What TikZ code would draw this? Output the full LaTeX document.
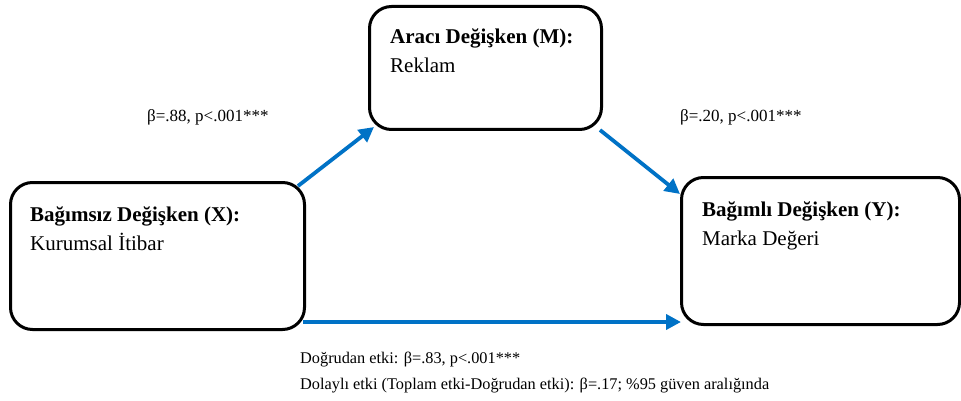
\documentclass[tikz,border=0pt]{standalone}
\usepackage{fontspec}
\setmainfont{Liberation Serif}
\usetikzlibrary{arrows.meta}
\definecolor{pathblue}{RGB}{0,114,198}
\tikzset{
  varbox/.style={draw=black, line width=3pt, rounded corners=22pt},
  pathline/.style={draw=pathblue, line width=3.8pt, -{Triangle[length=15pt,width=15pt]}},
  title/.style={anchor=base west, inner sep=0pt, font=\fontsize{21}{24}\selectfont\bfseries},
  body/.style={anchor=base west, inner sep=0pt, font=\fontsize{21}{24}\selectfont},
  small/.style={anchor=base west, inner sep=0pt, font=\fontsize{17}{20}\selectfont},
  smallb/.style={anchor=base west, inner sep=0pt, font=\fontsize{16.3}{19}\selectfont},
}
\begin{document}
\begin{tikzpicture}[x=1pt, y=-1pt]
  \useasboundingbox (0,0) rectangle (961,401);
  % variable boxes
  \node[varbox, minimum width=294pt, minimum height=147pt, anchor=north west] (X) at (9,181) {};
  \node[varbox, minimum width=232pt, minimum height=123pt, anchor=north west] (M) at (368,5) {};
  \node[varbox, minimum width=278pt, minimum height=147pt, anchor=north west] (Y) at (680,176) {};
  % box texts
  \node[title] (xt) at (30,221) {Bağımsız Değişken (X):};
  \node[body]  (xb) at (30,250) {Kurumsal İtibar};
  \node[title] (mt) at (390,44) {Aracı Değişken (M):};
  \node[body]  (mb) at (390,73) {Reklam};
  \node[title] (yt) at (702,216) {Bağımlı Değişken (Y):};
  \node[body]  (yb) at (702,245) {Marka Değeri};
  % path coefficients
  \node[small] (a) at (147,122) {β=.88, p<.001***};
  \node[small] (b) at (680,122) {β=.20, p<.001***};
  \node[smallb] (c) at (300,363) {Doğrudan etki: β=.83, p<.001***};
  \node[smallb] (ab) at (300,389) {Dolaylı etki (Toplam etki-Doğrudan etki): β=.17; \%95 güven aralığında};
  % connectors
  \coordinate (xa) at (298,186);
  \coordinate (ma) at (374,127);
  \coordinate (mb2) at (600,130);
  \coordinate (ya) at (680,194);
  \coordinate (xc) at (303,322);
  \coordinate (yc) at (681,322);
  \draw[pathline] (xa) -- (ma);
  \draw[pathline] (mb2) -- (ya);
  \draw[pathline] (xc) -- (yc);
\end{tikzpicture}
\end{document}
